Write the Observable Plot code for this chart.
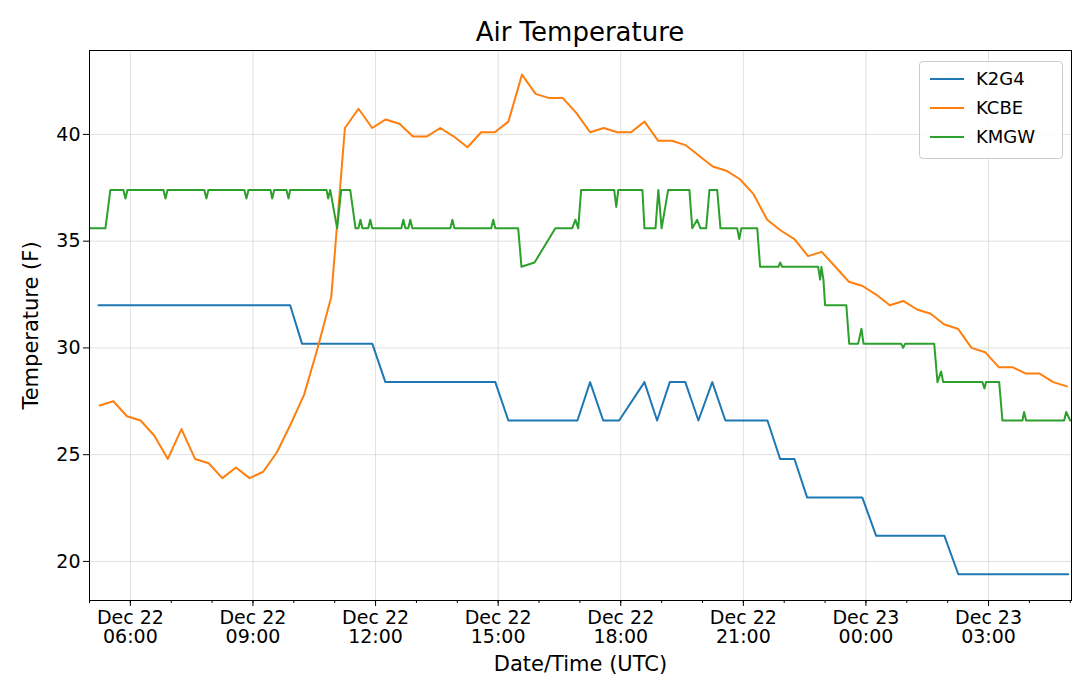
<!DOCTYPE html>
<html><head><meta charset="utf-8">
<script src="https://cdn.jsdelivr.net/npm/d3@7"></script>
<script src="https://cdn.jsdelivr.net/npm/@observablehq/plot@0.6"></script>
<style>
body{margin:0;background:#fff;font-family:"DejaVu Sans",sans-serif;}
#wrap{position:relative;width:1080px;height:690px;}
#title{height:50px;line-height:64px;text-align:center;font-size:26px;padding-left:80px;box-sizing:border-box;}
#legend{position:absolute;left:919px;top:61px;width:142px;height:96px;border:1px solid #ccc;border-radius:4px;background:rgba(255,255,255,0.85);font-size:18px;}
.li{position:absolute;left:10px;display:flex;align-items:center;}
.li span{display:inline-block;width:34px;height:2px;margin-right:12px;}
</style></head><body>
<div id="wrap"><div id="title">Air Temperature</div><div id="chart"></div>
<div id="legend"></div></div>
<script>
// hours since 2016-12-22 00:00 UTC
const k2g4Hours=[5.22,9.91,10.2,11.92,12.24,14.93,15.25,16.94,17.25,17.57,17.96,18.58,18.89,19.2,19.58,19.9,20.24,20.56,21.59,21.9,22.25,22.56,23.91,24.25,25.92,26.26,28.95];
const k2g4Temp=[32.0,32.0,30.2,30.2,28.4,28.4,26.6,26.6,28.4,26.6,26.6,28.4,26.6,28.4,28.4,26.6,28.4,26.6,26.6,24.8,24.8,23.0,23.0,21.2,21.2,19.4,19.4];
const kcbeTimes=["05:15","05:35","05:55","06:15","06:35","06:55","07:15","07:35","07:55","08:15","08:35","08:55","09:15","09:35","09:55","10:15","10:35","10:55","11:15","11:35","11:55","12:15","12:35","12:55","13:15","13:35","13:55","14:15","14:35","14:55","15:15","15:35","15:55","16:15","16:35","16:55","17:15","17:35","17:55","18:15","18:35","18:55","19:15","19:35","19:55","20:15","20:35","20:55","21:15","21:35","21:55","22:15","22:35","22:55","23:15","23:35","23:55","24:15","24:35","24:55","25:15","25:35","25:55","26:15","26:35","26:55","27:15","27:35","27:55","28:15","28:35","28:55"];
const kcbeTemp=[27.3,27.5,26.8,26.6,25.9,24.8,26.2,24.8,24.6,23.9,24.4,23.9,24.2,25.1,26.4,27.8,30.0,32.4,40.3,41.2,40.3,40.7,40.5,39.9,39.9,40.3,39.9,39.4,40.1,40.1,40.6,42.8,41.9,41.7,41.7,41.0,40.1,40.3,40.1,40.1,40.6,39.7,39.7,39.5,39.0,38.5,38.3,37.9,37.2,36.0,35.5,35.1,34.3,34.5,33.8,33.1,32.9,32.5,32.0,32.2,31.8,31.6,31.1,30.9,30.0,29.8,29.1,29.1,28.8,28.8,28.4,28.2];
const kmgwHours=[5.02,5.39,5.51,5.83,5.88,5.93,6.81,6.86,6.91,7.81,7.86,7.91,8.79,8.84,8.89,9.43,9.47,9.52,9.82,9.87,9.91,10.80,10.84,10.89,11.06,11.16,11.38,11.51,11.58,11.63,11.68,11.82,11.87,11.92,12.63,12.68,12.73,12.80,12.85,12.90,13.83,13.88,13.93,14.83,14.88,14.93,15.49,15.57,15.89,16.40,16.81,16.89,16.96,17.03,17.84,17.89,17.94,18.53,18.58,18.85,18.92,19.0,19.16,19.68,19.75,19.87,19.95,20.09,20.17,20.36,20.44,20.85,20.9,20.95,21.34,21.41,21.86,21.9,21.95,22.83,22.88,22.91,22.96,23.0,23.52,23.59,23.81,23.89,23.94,24.86,24.91,24.96,25.67,25.75,25.84,25.89,26.85,26.9,26.94,27.26,27.34,27.83,27.87,27.92,28.85,28.9,29.0];
const kmgwTemp=[35.6,35.6,37.4,37.4,37.0,37.4,37.4,37.0,37.4,37.4,37.0,37.4,37.4,37.0,37.4,37.4,37.0,37.4,37.4,37.0,37.4,37.4,37.0,37.4,35.6,37.4,37.4,35.6,35.6,36.0,35.6,35.6,36.0,35.6,35.6,36.0,35.6,35.6,36.0,35.6,35.6,36.0,35.6,35.6,36.0,35.6,35.6,33.8,34.0,35.6,35.6,36.0,35.6,37.4,37.4,36.6,37.4,37.4,35.6,35.6,37.4,35.6,37.4,37.4,35.6,36.0,35.6,35.6,37.4,37.4,35.6,35.6,35.1,35.6,35.6,33.8,33.8,34.0,33.8,33.8,33.2,33.8,33.2,32.0,32.0,30.2,30.2,30.9,30.2,30.2,30.0,30.2,30.2,28.4,28.9,28.4,28.4,28.1,28.4,28.4,26.6,26.6,27.0,26.6,26.6,27.0,26.6];
const stations=["K2G4","KCBE","KMGW"];
const colors=["#1f77b4","#ff7f0e","#2ca02c"];
const yTicks=[20,25,30,35,40];
const base=Date.UTC(2016,11,22);
const hd=h=>new Date(base+h*3600e3);
const td=s=>{const [a,b]=s.split(":").map(Number);return hd(a+b/60);};
const data=[
 ...k2g4Hours.map((h,i)=>({t:hd(h),v:k2g4Temp[i],s:"K2G4"})),
 ...kcbeTimes.map((s,i)=>({t:td(s),v:kcbeTemp[i],s:"KCBE"})),
 ...kmgwHours.map((h,i)=>({t:hd(h),v:kmgwTemp[i],s:"KMGW"}))];
const major=d3.utcHour.every(3).range(hd(6),hd(28));
const minor=d3.utcHour.range(hd(5),hd(29.1));
const fmt=d=>d3.utcFormat("%b %d")(d)+"\n"+d3.utcFormat("%H:%M")(d);
const p=Plot.plot({
 width:1080,height:640,marginTop:0,marginLeft:89,marginRight:9,marginBottom:90,
 style:{fontFamily:"DejaVu Sans",fontSize:"19px",color:"#000"},
 x:{type:"utc",domain:[hd(5),hd(29.03)]},
 y:{domain:[18.17,43.93]},
 color:{domain:stations,range:colors},
 marks:[
  Plot.gridX(major,{stroke:"#ccc",strokeOpacity:0.6}),
  Plot.gridY(yTicks,{stroke:"#ccc",strokeOpacity:0.6}),
  Plot.axisX(minor,{tickSize:3,tickFormat:()=>"",label:null}),
  Plot.axisX(major,{tickSize:6,tickFormat:fmt,tickPadding:4,fontSize:19,label:"Date/Time (UTC)",labelAnchor:"center",labelArrow:"none",labelOffset:70}),
  Plot.axisY(yTicks,{tickSize:6,fontSize:19,label:"Temperature (F)",labelAnchor:"center",labelArrow:"none",labelOffset:66}),
  Plot.line(data,{x:"t",y:"v",stroke:"s",z:"s",strokeWidth:2}),
  Plot.frame({stroke:"#000"})
 ]});
document.getElementById("chart").appendChild(p);
p.querySelectorAll("g[aria-label='x-axis label'] text, g[aria-label='y-axis label'] text").forEach(t=>t.style.fontSize="21px");
const lg=document.getElementById("legend");
stations.forEach((s,i)=>{const d=document.createElement("div");d.className="li";d.style.top=(6+i*29)+"px";
 d.innerHTML=`<span style="background:${colors[i]}"></span>${s}`;lg.appendChild(d);});
</script></body></html>
